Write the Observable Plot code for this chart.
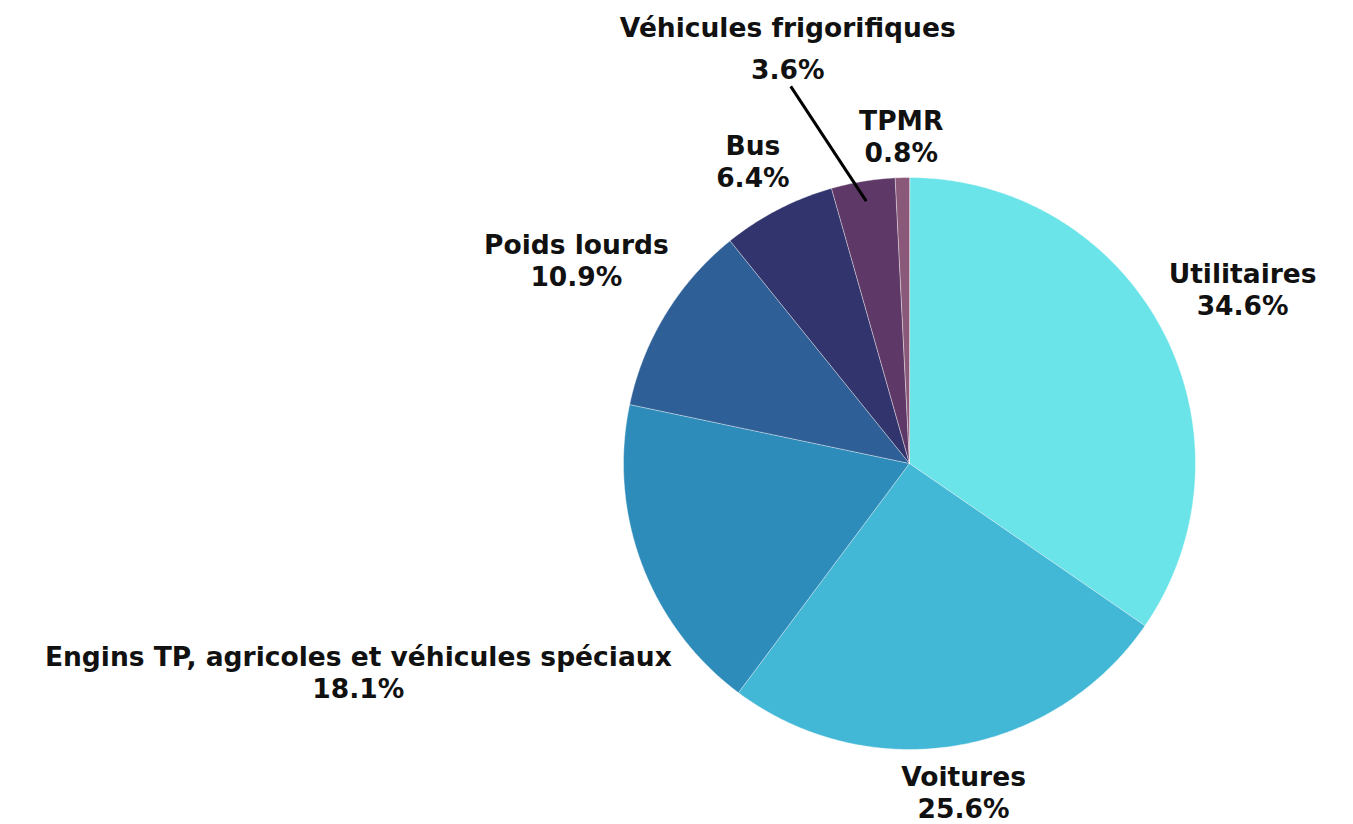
<!DOCTYPE html>
<html><head><meta charset="utf-8">
<script src="https://cdn.jsdelivr.net/npm/d3@7"></script>
<script src="https://cdn.jsdelivr.net/npm/@observablehq/plot@0.6"></script>
<style>body{margin:0;background:#fff;overflow:hidden}</style>
</head><body><div id="chart"></div>
<script>
const categories = ["Utilitaires","Voitures","Engins TP, agricoles et véhicules spéciaux","Poids lourds","Bus","Véhicules frigorifiques","TPMR"];
const shares = [34.6,25.6,18.1,10.9,6.4,3.6,0.8];
const colors = ["#6ae4e8","#43b8d6","#2e8cba","#2f5f97","#32356d","#5e3866","#8a5879"];

const W = 1353, H = 824, R = 286, CX = 909, CY = 463;
const FONT = "DejaVu Sans";
const ctx = document.createElement("canvas").getContext("2d");
ctx.font = `700 24px "${FONT}"`;
const FS = Math.min(26.5, 24 * 630 / ctx.measureText(categories[2]).width);
ctx.font = `700 ${FS}px "${FONT}"`;
const LINE = 32;                          // px between label lines
const labelGap = 296 / R;                 // labels clear this radius
const overrides = {"Véhicules frigorifiques": {angle: 343.8, dist: 1.526, leader: true, line: 42}};

const data = categories.map((c, i) => ({name: c, value: shares[i]}));
const arcs = d3.pie().sort(null).value(d => d.value)(data);

// slice outlines
const pts = [];
for (const a of arcs) {
  pts.push({name: a.data.name, x: 0, y: 0});
  const n = Math.max(2, Math.ceil((a.endAngle - a.startAngle) / (Math.PI / 360)));
  for (let k = 0; k <= n; k++) {
    const t = a.startAngle + (a.endAngle - a.startAngle) * k / n;
    pts.push({name: a.data.name, x: Math.sin(t), y: Math.cos(t)});
  }
}

// label placement
const labels = [], special = [], links = [];
for (const a of arcs) {
  const name = a.data.name;
  const pct = a.data.value.toFixed(1) + "%";
  const mid = (a.startAngle + a.endAngle) / 2;
  const w = Math.max(ctx.measureText(name).width, ctx.measureText(pct).width) / 2 / R;
  const h = LINE / R;
  const o = overrides[name];
  if (o) {
    const t = o.angle * Math.PI / 180;
    const x = o.dist * Math.sin(t), y = o.dist * Math.cos(t);
    special.push({x, y, text: name + "\n" + pct});
    if (o.leader) links.push({x1: x + 3 / R, y1: y - 42 / R, x2: 0.93 * Math.sin(mid), y2: 0.93 * Math.cos(mid)});
  } else {
    const ux = Math.sin(mid), uy = Math.cos(mid);
    let lo = 0, hi = 5;
    for (let k = 0; k < 60; k++) {
      const d = (lo + hi) / 2;
      const dx = Math.max(Math.abs(d * ux) - w, 0), dy = Math.max(Math.abs(d * uy) - h, 0);
      if (Math.hypot(dx, dy) < labelGap) lo = d; else hi = d;
    }
    labels.push({x: hi * ux, y: hi * uy, text: name + "\n" + pct});
  }
}

const textOpts = {x: "x", y: "y", text: "text", fontSize: FS, fontWeight: 700, fontFamily: FONT, fill: "#111"};
const chart = Plot.plot({
  width: W, height: H, margin: 0,
  x: {domain: [-CX / R, (W - CX) / R], range: [0, W], axis: null},
  y: {domain: [-(H - CY) / R, CY / R], range: [H, 0], axis: null},
  color: {domain: categories, range: colors},
  style: {background: "#fff"},
  marks: [
    Plot.line(pts, {x: "x", y: "y", z: "name", fill: "name", stroke: "#ffffff", strokeWidth: 0.6, strokeOpacity: 0.7, curve: "linear-closed"}),
    Plot.link(links, {x1: "x1", y1: "y1", x2: "x2", y2: "y2", stroke: "#000", strokeWidth: 3}),
    Plot.text(labels, {...textOpts, lineHeight: LINE / FS}),
    Plot.text(special, {...textOpts, lineHeight: overrides["Véhicules frigorifiques"].line / FS})
  ]
});
document.getElementById("chart").append(chart);
</script>
</body></html>
